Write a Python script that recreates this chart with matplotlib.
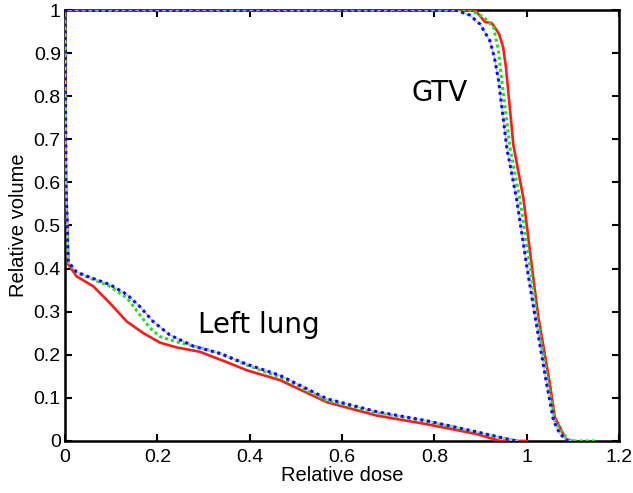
import matplotlib
matplotlib.use("Agg")
import matplotlib.pyplot as plt

# GTV curves (relative dose, relative volume)
gtv_red_x = [0.0, 0.5, 0.888, 0.91, 0.924, 0.940, 0.949, 0.955, 0.971, 0.993, 1.011, 1.025, 1.050, 1.061, 1.076, 1.087, 1.10]
gtv_red_y = [1.0, 1.0, 1.0, 0.972, 0.97, 0.945, 0.913, 0.867, 0.687, 0.562, 0.406, 0.289, 0.133, 0.055, 0.023, 0.0, 0.0]
gtv_green_x = [0.0, 0.5, 0.877, 0.906, 0.928, 0.938, 0.946, 0.964, 0.985, 1.007, 1.022, 1.047, 1.061, 1.079, 1.095, 1.148]
gtv_green_y = [1.0, 1.0, 1.0, 0.984, 0.96, 0.91, 0.836, 0.679, 0.562, 0.406, 0.289, 0.133, 0.047, 0.016, 0.0, 0.0]
gtv_blue_x = [0.0, 0.5, 0.845, 0.877, 0.899, 0.920, 0.930, 0.939, 0.957, 0.978, 1.0, 1.018, 1.043, 1.058, 1.072, 1.09, 1.10]
gtv_blue_y = [1.0, 1.0, 1.0, 0.988, 0.967, 0.929, 0.89, 0.836, 0.679, 0.562, 0.406, 0.289, 0.133, 0.047, 0.016, 0.0, 0.0]

# Left lung curves
lung_red_x = [0.0, 0.002, 0.007, 0.025, 0.061, 0.097, 0.134, 0.170, 0.206, 0.242, 0.292, 0.350, 0.394, 0.466, 0.567, 0.675, 0.783, 0.892, 0.942, 1.0]
lung_red_y = [1.0, 0.6, 0.41, 0.382, 0.359, 0.32, 0.277, 0.25, 0.228, 0.217, 0.207, 0.183, 0.164, 0.141, 0.090, 0.059, 0.039, 0.016, 0.0, 0.0]
lung_green_x = [0.0, 0.002, 0.007, 0.025, 0.061, 0.097, 0.134, 0.162, 0.184, 0.206, 0.242, 0.292, 0.336, 0.394, 0.466, 0.567, 0.675, 0.783, 0.892, 0.964, 0.98]
lung_green_y = [1.0, 0.6, 0.414, 0.39, 0.375, 0.359, 0.332, 0.293, 0.262, 0.242, 0.230, 0.217, 0.203, 0.176, 0.148, 0.094, 0.066, 0.046, 0.02, 0.003, 0.0]
lung_blue_x = [0.0, 0.002, 0.007, 0.025, 0.061, 0.097, 0.134, 0.162, 0.191, 0.227, 0.278, 0.336, 0.394, 0.466, 0.567, 0.675, 0.783, 0.892, 0.964, 0.98]
lung_blue_y = [1.0, 0.6, 0.416, 0.392, 0.377, 0.363, 0.340, 0.312, 0.277, 0.246, 0.220, 0.203, 0.178, 0.152, 0.098, 0.068, 0.047, 0.021, 0.003, 0.0]

x_ticks = [0, 0.2, 0.4, 0.6, 0.8, 1, 1.2]
x_ticklabels = ["0", "0.2", "0.4", "0.6", "0.8", "1", "1.2"]
y_ticks = [0, 0.1, 0.2, 0.3, 0.4, 0.5, 0.6, 0.7, 0.8, 0.9, 1]
y_ticklabels = ["0", "0.1", "0.2", "0.3", "0.4", "0.5", "0.6", "0.7", "0.8", "0.9", "1"]

plt.rcParams['font.family'] = ['Liberation Sans', 'DejaVu Sans']

fig = plt.figure(figsize=(6.33, 4.93), dpi=100)
ax = fig.add_axes([0.1027, 0.1055, 0.8753, 0.8742])

def draw(x, y, kind):
    if kind == "red":
        ax.plot(x, y, color="#ff1a1a", lw=1.9, solid_joinstyle="round", zorder=3)
    elif kind == "green":
        ax.plot(x, y, color="#22dd22", lw=2.2, linestyle=(0, (1, 1)), zorder=4)
    else:
        ax.plot(x, y, color="#b8b8ff", lw=1.0, zorder=4)
        ax.plot(x, y, color="#1010dd", lw=2.2, linestyle=(0, (1, 1.2)), zorder=5)

draw(gtv_red_x, gtv_red_y, "red")
draw(gtv_green_x, gtv_green_y, "green")
draw(gtv_blue_x, gtv_blue_y, "blue")
draw(lung_red_x, lung_red_y, "red")
draw(lung_green_x, lung_green_y, "green")
draw(lung_blue_x, lung_blue_y, "blue")

ax.set_xlim(0, 1.2)
ax.set_ylim(0, 1)
ax.set_xticks(x_ticks)
ax.set_xticklabels(x_ticklabels)
ax.set_yticks(y_ticks)
ax.set_yticklabels(y_ticklabels)
ax.tick_params(direction="in", top=True, right=True, length=5, width=1.5, labelsize=14)
ax.tick_params(axis="x", pad=6)
ax.tick_params(axis="y", pad=3)
for s in ax.spines.values():
    s.set_linewidth(1.8)

ax.set_xlabel("Relative dose", fontsize=14.5, labelpad=0)
ax.set_ylabel("Relative volume", fontsize=14.5, labelpad=4)

ax.text(0.812, 0.808, "GTV", fontsize=20, ha="center", va="center", family="DejaVu Sans")
ax.text(0.42, 0.27, "Left lung", fontsize=20, ha="center", va="center", family="DejaVu Sans")

fig.savefig("out.png", dpi=100)
